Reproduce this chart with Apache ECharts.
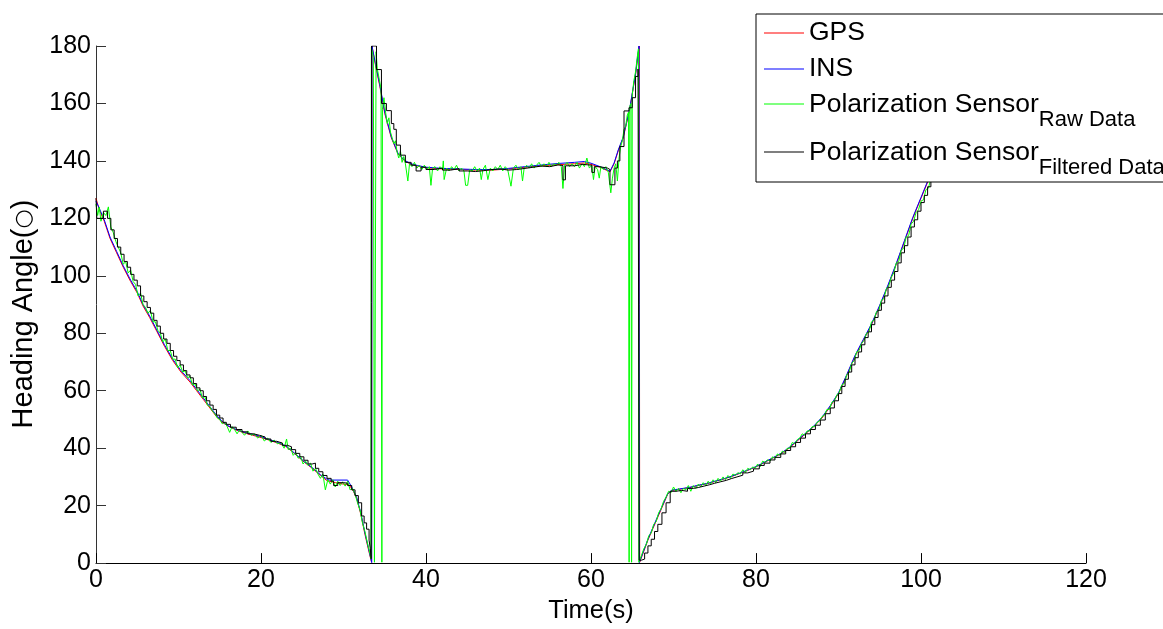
<!DOCTYPE html>
<html>
<head>
<meta charset="utf-8">
<title>Heading Angle</title>
<script src="https://cdn.jsdelivr.net/npm/echarts@6.0.0/dist/echarts.min.js"></script>
<style>
  html, body { margin: 0; padding: 0; background: #fff; }
  #chart { width: 1163px; height: 629px; }
</style>
</head>
<body>
<div id="chart"></div>
<script>
// [time (s), heading (deg)]
const gps = [
  [0,127],[0.4,123],[1,119],[1.7,113],[2.5,108],[3.3,103],[4.2,98],[5,94],[5.7,89.5],[6.5,85.5],
  [7.4,80.5],[8.3,75.5],[9.3,70.5],[10.3,66.5],[11.4,63],[12.2,60],[13,57],[13.8,54],[14.6,51],[15.3,49],
  [16,47.7],[17,46.3],[18,45.3],[19,44.5],[20,43.7],[21,42.8],[22,41.8],[23,40.6],[23.7,39],[24.5,37],
  [25.3,35],[26.3,32.8],[27.2,30.5],[28,28.7],[29,28],[30,27.5],[30.7,27.2],[31.2,25],[31.6,22.5],[32.1,17],
  [32.6,10],[33,5],[33.4,0.3],[33.45,180],[33.9,173],[34.4,166],[35,156.5],[35.8,148],[36.6,142.5],[37.4,140],
  [38.2,138.8],[39,138.2],[40,137.6],[42,137.2],[44,137],[46,136.8],[48,136.8],[50,137.2],[52,137.8],[54,138.3],
  [56,138.7],[58,139],[59.2,139.3],[60,138.8],[61.1,137.8],[62.3,136.2],[62.8,139],[63.3,143.5],[63.9,148],[64.3,153],
  [64.7,158],[65.1,165],[65.4,170],[65.7,177],[65.85,180],[65.9,0.3],[66.9,8],[68.1,16],[69.3,24],[69.8,25.3],
  [70.5,25.6],[72,26.3],[73,27],[74,27.6],[75,28.4],[76,29.2],[77,30.1],[78,31.2],[79,32.3],[80,33.5],
  [81,35],[82,36.5],[83,38],[84,40],[85,42.5],[86,45],[87,47.5],[88,50.5],[89,54.5],[90,59],
  [91,65.3],[92,72],[93,77.5],[94,83],[95,89.5],[96,96.5],[97,104],[98,112],[99,120],[100,127],
  [101,134],[102,140]
];

const ins = [
  [0,126],[0.4,123.5],[1,119.5],[1.7,113.5],[2.5,108.5],[3.3,103.5],[4.2,98.5],[5,94.5],[5.7,90],[6.5,86],
  [7.4,81],[8.3,76],[9.3,71],[10.3,67],[11.4,63.5],[12.2,60.5],[13,57.5],[13.8,54.5],[14.6,51.5],[15.3,49.3],
  [16,47.8],[17,46.5],[18,45.5],[19,44.8],[20,44],[21,43],[22,42],[23,40.8],[23.7,39.2],[24.5,37.2],
  [25.3,35.2],[26.3,33],[27.2,30.8],[28,29.2],[28.3,28.9],[30.5,28.9],[31,26.5],[31.6,22.8],[32.1,17.5],[32.6,10.5],
  [33,5.5],[33.42,0.2],[33.45,180],[33.9,173.5],[34.4,166.5],[35,157],[35.8,148.3],[36.6,142.7],[37.4,140.2],[38.2,139],
  [39,138.4],[40,137.8],[42,137.4],[44,137.2],[46,137],[48,137],[50,137.4],[52,138],[54,138.6],[56,139.1],
  [58,139.5],[59.2,139.8],[60,139.2],[61.1,138],[62.3,136.4],[62.8,139.3],[63.3,143.8],[63.9,148.3],[64.3,153.3],[64.7,158.3],
  [65.1,165.3],[65.4,170.3],[65.7,177.3],[65.82,180],[65.86,0.2],[66.9,8.3],[68.1,16.4],[69.3,24.2],[69.8,25.4],[70.5,25.7],
  [72,26.4],[73,27.1],[74,27.7],[75,28.5],[76,29.3],[77,30.2],[78,31.3],[79,32.4],[80,33.6],[81,35.1],
  [82,36.6],[83,38.2],[84,40.2],[85,42.7],[86,45.2],[87,47.7],[88,50.8],[89,54.8],[90,59.3],[91,65.6],
  [92,72.3],[93,77.8],[94,83.3],[95,89.8],[96,96.8],[97,104.3],[98,112.3],[99,120.3],[100,127.3],[101,134.3],
  [102,140.3]
];

const rawData = [
  [0,125],[0.2,121],[0.4,124],[0.6,119],[0.9,122],[1.2,121],[1.5,124],[1.8,117],[2.1,115],[2.4,112],
  [2.7,110],[3.0,108],[3.3,104],[3.6,105],[3.9,101],[4.2,102],[4.5,98],[4.8,97],[5.1,93],[5.4,94],
  [5.7,90],[6.0,89],[6.3,87],[6.6,88],[6.9,84],[7.2,84],[7.5,81],[7.8,80],[8.1,77],[8.4,78],
  [8.7,74],[9.0,74],[9.3,71],[9.6,71],[9.9,68],[10.2,69],[10.5,66.5],[10.8,67],[11.1,64.5],[11.4,65],
  [11.7,62],[12.0,62.5],[12.3,60],[12.6,60.5],[12.9,57.5],[13.2,58],[13.5,55],[13.8,54.5],[14.1,53],[14.4,52],
  [14.7,50.5],[15.0,50],[15.3,48.5],[15.6,49],[15.9,47.5],[16.2,45.5],[16.5,47.5],[16.8,46.5],[17.1,45],[17.4,46.5],
  [17.7,45.5],[18,44.5],[18.4,46],[18.8,44.5],[19.2,45],[19.6,43.5],[20,44.5],[20.4,42.5],[20.8,43.5],[21.2,42],
  [21.6,42.8],[22,41.5],[22.4,42],[22.8,40],[23.1,43.2],[23.3,39.5],[23.6,40],[23.9,37.5],[24.2,38.5],[24.5,36.5],
  [24.8,37.2],[25.1,34.5],[25.4,35.5],[25.7,34],[26.0,34.8],[26.3,32],[26.6,33],[26.9,31],[27.2,29.5],[27.5,31],
  [27.8,25.5],[28.1,29],[28.4,27.5],[28.7,29],[29.0,26.5],[29.3,28.5],[29.6,27],[29.9,28.3],[30.2,26.8],[30.5,28.5],
  [30.8,25.5],[31.1,26],[31.4,24],[31.7,21],[32.0,18.5],[32.3,14],[32.6,11],[32.9,7],[33.2,3.5],[33.32,1.5],
  [33.38,179.5],[33.55,177],[33.62,176],[33.75,0.3],[33.95,178],[34.1,172],[34.3,169],[34.55,165],[34.65,0.3],[34.72,158],
  [34.9,162],[35.1,157],[35.3,153],[35.5,155],[35.7,150],[35.9,150.5],[36.1,146],[36.3,147],[36.5,143],[36.7,141],
  [36.9,143.5],[37.1,139.5],[37.3,141.5],[37.5,139],[37.8,133],[38,139],[38.3,138],[38.6,139.5],[38.9,137.5],[39.2,138.5],
  [39.5,137],[39.8,138.5],[40.1,137],[40.4,138],[40.6,131.5],[40.8,137.5],[41.1,138],[41.4,136.5],[41.7,138],[42.0,137],
  [42.1,140],[42.2,133.5],[42.5,137.5],[42.8,136.5],[43.1,138],[43.4,137],[43.7,138.5],[44.0,136.5],[44.3,137.5],[44.6,136.5],
  [44.8,131.5],[45.05,131.5],[45.3,137],[45.6,136.5],[45.9,138],[46.2,136.5],[46.5,137.5],[46.7,133.5],[46.9,137],[47.2,138.5],
  [47.5,133.5],[47.8,137.5],[48.1,136.5],[48.4,138],[48.7,137],[49,138.5],[49.3,136.5],[49.6,138],[49.9,137],[50.3,131.2],
  [50.6,137.5],[50.9,138.5],[51.2,137],[51.5,138],[51.7,133],[51.9,137.5],[52.2,138.5],[52.5,137.5],[52.8,139],[53.1,137.5],
  [53.4,138.5],[53.7,139.5],[54,138],[54.3,139],[54.6,138],[54.9,139.5],[55.2,138],[55.5,139],[55.8,138.5],[56.1,139.5],
  [56.4,138],[56.6,130.4],[56.8,138.5],[57.1,139.5],[57.4,138],[57.7,139],[58,138],[58.3,139.5],[58.6,137.5],[58.9,139],
  [59.2,138],[59.5,141],[59.8,137.5],[60.1,138.5],[60.3,133.5],[60.5,138],[60.8,137],[61,134],[61.2,138],[61.5,137],
  [61.8,138],[62.1,136],[62.4,128.9],[62.6,134],[62.8,137.5],[63,139],[63.2,133],[63.4,141],[63.6,145],[63.8,147],
  [64.0,151],[64.2,152],[64.4,156],[64.55,157],[64.62,0.3],[64.7,159],[64.85,160],[64.92,0.3],[65.0,163],[65.2,168],
  [65.4,171],[65.6,176],[65.75,179],[65.8,0.3],[66.1,2.5],[66.4,5],[66.7,6.5],[67,9.5],[67.3,10.5],[67.6,13.5],
  [67.9,14.5],[68.2,17.5],[68.5,19],[68.8,21.5],[69.1,23],[69.4,25],[69.7,24.5],[70,26.5],[70.3,25],[70.6,26],
  [70.9,24.5],[71.2,26],[71.5,25.5],[71.8,27],[72.1,25],[72.4,27],[72.7,26],[73,27.5],[73.3,26.5],[73.6,28],
  [73.9,27],[74.2,28.5],[74.5,27.5],[74.8,29],[75.1,28],[75.4,29.5],[75.7,28.5],[76,30],[76.3,29],[76.6,30.5],
  [76.9,29.5],[77.2,31],[77.5,30.5],[77.8,31.5],[78.1,31],[78.4,32.5],[78.7,31.5],[79,33],[79.3,32.5],[79.6,33.5],
  [79.9,33],[80.2,34.5],[80.5,33.5],[80.8,35.5],[81.1,35],[81.4,36],[81.7,35.5],[82,37],[82.3,36.5],[82.6,38],
  [82.9,37.5],[83.2,39],[83.5,38.5],[83.8,40],[84.1,40],[84.4,42],[84.7,41.5],[85,43],[85.3,43.5],[85.6,45],
  [85.9,44.5],[86.2,46],[86.5,46],[86.8,47.5],[87.1,47.5],[87.4,49],[87.7,49.5],[88,51],[88.3,51.5],[88.6,53.5],
  [88.9,53.5],[89.2,56],[89.5,56.5],[89.8,58.5],[90.1,59.5],[90.4,62],[90.7,62.5],[91,65.5],[91.3,66.5],[91.6,69.5],
  [91.9,70.5],[92.2,73.5],[92.5,74],[92.8,76.5],[93.1,77.5],[93.4,80],[93.7,80.5],[94,84],[94.3,84.5],[94.6,87.5],
  [94.9,88],[95.2,91.5],[95.5,92],[95.8,95.5],[96.1,96.5],[96.4,99.5],[96.7,101],[97,104.5],[97.3,105],[97.6,109],
  [97.9,109.5],[98.2,113.5],[98.5,114],[98.8,118],[99.1,119],[99.4,122],[99.7,123],[100,126],[100.3,126.5],[100.6,130],
  [100.9,130.5],[101.2,134],[101.5,135],[101.8,139],[102,140]
];

const filteredData = [
  [0,127],[0.1,120],[0.9,122.5],[1.4,120],[1.8,116],[2.2,113],[2.6,110],[3,107.5],[3.4,105],[3.8,103],
  [4.2,100.5],[4.6,98.5],[5,96.5],[5.4,93],[5.8,91],[6.2,89],[6.6,87],[7,84.5],[7.4,82.5],[7.8,80],
  [8.2,78],[8.6,76.5],[9,74],[9.4,72],[9.8,70.5],[10.2,69],[10.6,67],[11,65.5],[11.4,64.5],[11.8,62.5],
  [12.2,61],[12.6,60],[13,58],[13.4,56.5],[13.8,55],[14.2,53.5],[14.6,51.5],[15,50.5],[15.4,49],[15.8,48.3],
  [16.3,47.3],[17,46.5],[17.7,45.7],[18.4,45],[19.1,44.5],[19.8,43.9],[20.5,43.2],[21.2,42.4],[21.9,41.8],[22.6,41],
  [23.2,40.5],[23.7,39.5],[24.2,38.2],[24.7,37],[25.2,35.8],[25.7,34.5],[26.2,34.8],[26.6,33],[27,31.8],[27.5,30.5],
  [28,29.5],[28.5,28.5],[28.8,27],[29.3,28],[30,27.8],[30.5,27],[31,25.5],[31.4,23.5],[31.8,21],[32.2,16.4],
  [32.5,14],[32.8,11.8],[33.1,8],[33.25,5],[33.35,1.5],[33.4,180],[34.0,171.8],[34.6,160],[35.2,157.5],[35.8,153],
  [36.1,151],[36.4,145.5],[36.9,142],[37.5,139.5],[38.2,138.5],[38.8,136.5],[39.4,137.8],[40,137],[41,137.5],[42,136.8],
  [43,137.3],[44,136.5],[45,136.3],[46,136.6],[47,137],[48,137.2],[49,136.8],[50,137],[51,137.4],[52,137.8],
  [53,138.2],[54,138],[55,138.6],[56,138.4],[56.6,133.4],[56.9,138.3],[58,138.8],[59,138.5],[60.1,136],[60.4,138],
  [61,137.5],[62,137],[62.3,131.7],[62.9,137.5],[63.2,140],[63.5,145],[64.0,157.4],[64.6,158.5],[65.0,162],[65.4,169.4],
  [65.7,172],[65.84,1],[66.1,1.4],[66.5,3.5],[66.9,6],[67.3,8.3],[67.7,11],[68.1,13.5],[68.6,17.5],[69.1,21],
  [69.6,25],[70.3,25.3],[71,25],[71.7,26],[72.4,26.3],[73,26.8],[73.7,27.3],[74.4,27.8],[75,28.3],[75.7,28.8],
  [76.4,29.4],[77,30],[77.7,30.6],[78.4,31.4],[79,32],[79.7,32.8],[80.4,34],[81,34.8],[81.7,35.9],[82.3,36.8],
  [83,38],[83.6,39.2],[84.2,40.5],[84.8,42],[85.4,43.5],[86,45],[86.6,46.5],[87.2,48],[87.8,49.8],[88.4,52],
  [89,54],[89.5,56.5],[90,59],[90.4,61.5],[90.8,64],[91.2,66.5],[91.6,69],[92,71.5],[92.4,73.5],[92.8,76],
  [93.2,78.5],[93.6,80.5],[94,83],[94.4,85.5],[94.8,88],[95.2,90.5],[95.6,93],[96,96],[96.4,98.5],[96.8,101.5],
  [97.2,104.5],[97.6,108],[98,110.5],[98.4,113.5],[98.8,117],[99.2,119.5],[99.6,122.5],[100,125.5],[100.4,128],[100.8,131],
  [101.2,133.5],[101.6,136],[102,139]
];

const xTicks = [0, 120, 20];   // min, max, interval
const yTicks = [0, 180, 20];

const seriesNames = ['GPS', 'INS', 'Polarization Sensor Raw Data', 'Polarization Sensor Filtered Data'];
const seriesColors = ['#ff0000', '#0000ff', '#00ff00', '#000000'];
const legendParts = {
  'Polarization Sensor Raw Data': ['Polarization Sensor', 'Raw Data'],
  'Polarization Sensor Filtered Data': ['Polarization Sensor', 'Filtered Data']
};

const font = '"Liberation Sans", Arial, sans-serif';

const chart = echarts.init(document.getElementById('chart'), null, { renderer: 'canvas' });

const option = {
  animation: false,
  backgroundColor: '#fff',
  grid: { left: 96, right: 77, top: 46, bottom: 58, containLabel: false },
  legend: {
    data: seriesNames.map(function (n, i) {
      return {
        name: n,
        icon: 'rect',
        itemStyle: { color: seriesColors[i], borderWidth: 0, opacity: 1 }
      };
    }),
    orient: 'vertical',
    left: 756,
    top: 14,
    itemWidth: 40,
    itemHeight: 1.2,
    itemGap: 8,
    padding: [5, 30, 3, 8],
    borderColor: '#000',
    borderWidth: 1,
    backgroundColor: '#fff',
    selectedMode: false,
    textStyle: {
      fontFamily: font,
      fontSize: 26.5,
      lineHeight: 28,
      color: '#000',
      rich: {
        m: { fontFamily: font, fontSize: 26.5, lineHeight: 26, color: '#000', verticalAlign: 'top' },
        s: { fontFamily: font, fontSize: 22, lineHeight: 21, color: '#000', verticalAlign: 'top', padding: [18, 0, 0, 0] }
      }
    },
    formatter: function (name) {
      const p = legendParts[name];
      return p ? '{m|' + p[0] + '}{s|' + p[1] + '}' : name;
    }
  },
  xAxis: {
    type: 'value',
    min: xTicks[0],
    max: xTicks[1],
    interval: xTicks[2],
    name: 'Time(s)',
    nameLocation: 'middle',
    nameGap: 27,
    nameTextStyle: { fontFamily: font, fontSize: 25.5, color: '#000' },
    axisLine: { lineStyle: { color: '#000', width: 1 } },
    axisTick: { inside: true, length: 10, lineStyle: { color: '#000' } },
    axisLabel: { fontFamily: font, fontSize: 25, color: '#000', margin: 5 },
    splitLine: { show: false }
  },
  yAxis: {
    type: 'value',
    min: yTicks[0],
    max: yTicks[1],
    interval: yTicks[2],
    name: '{t|Heading Angle(}{c|○}{t|)}',
    nameLocation: 'middle',
    nameGap: 55,
    nameTextStyle: {
      padding: [0, 19, 0, 0],
      rich: {
        t: { fontFamily: font, fontSize: 29, color: '#000' },
        c: { fontFamily: 'DejaVu Sans', fontSize: 22, color: '#000' }
      }
    },
    axisLine: { show: true, lineStyle: { color: '#333', width: 1 } },
    axisTick: { show: true, inside: true, length: 10, lineStyle: { color: '#333' } },
    axisLabel: { fontFamily: font, fontSize: 25, color: '#000', margin: 5 },
    splitLine: { show: false }
  },
  series: [gps, ins, rawData, filteredData].map(function (d, i) {
    return {
      name: seriesNames[i],
      type: 'line',
      data: d,
      symbol: 'none',
      showSymbol: false,
      step: i === 3 ? 'end' : false,
      lineStyle: { color: seriesColors[i], width: 1 },
      itemStyle: { color: seriesColors[i] }
    };
  })
};

chart.setOption(option);
window.addEventListener('resize', chart.resize);
</script>
</body>
</html>
